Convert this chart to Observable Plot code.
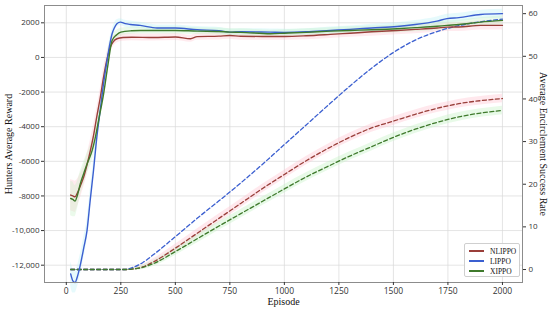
<!DOCTYPE html>
<html><head><meta charset="utf-8">
<script src="https://cdn.jsdelivr.net/npm/d3@7"></script>
<script src="https://cdn.jsdelivr.net/npm/@observablehq/plot@0.6"></script>
<style>
body{margin:0;background:#fff;}
#wrap{position:relative;width:550px;height:311px;}
#legend{position:absolute;left:464px;top:243px;width:56px;height:34px;border:1px solid #cfcfcf;border-radius:2px;background:rgba(255,255,255,0.9);font-family:"Liberation Serif",serif;font-size:7.5px;color:#111;box-sizing:border-box;padding-top:2px;}
.lg{display:flex;align-items:center;height:10px;}
.lg span.sw{display:inline-block;width:15px;height:1.5px;margin:0 6px 0 4px;}
</style></head>
<body><div id="wrap"><div id="chart"></div><div id="legend"></div></div>
<script>
const seriesNames = ["NLIPPO", "LIPPO", "XIPPO"];
const lineColors = ["#9a3f3a", "#3b5fd0", "#3f7a2c"];
const bandColors = ["#ffc6d2", "#b8f1f6", "#c6f2c6"];

// Hunters average reward (left axis)
const nlippoEp = [20,30,40,50,65,80,95,110,125,140,156,170,185,202,215,232,260,300,400,500,570,600,700,750,800,900,1000,1100,1211,1300,1400,1517,1600,1700,1746,1800,1900,2000];
const nlippoReward = [-7950,-8000,-8050,-7850,-7400,-6900,-6200,-5400,-4500,-3400,-2300,-1200,-200,600,900,1080,1150,1170,1150,1180,1080,1200,1230,1270,1220,1210,1210,1250,1330,1400,1480,1560,1620,1700,1750,1760,1850,1850];
const nlippoSpread = [900,900,900,800,700,600,600,600,600,500,500,500,400,350,300,250,220,200,200,200,200,200,220,220,220,220,220,230,230,230,250,250,250,250,250,260,260,260];

const lippoEp = [20,30,40,50,64,80,95,110,125,140,156,171,187,200,210,220,232,248,270,294,339,416,500,600,700,750,800,936,1000,1100,1211,1300,1400,1517,1600,1700,1746,1800,1900,2000];
const lippoReward = [-12500,-12900,-13000,-12700,-12000,-11000,-10000,-8200,-6500,-4600,-3000,-1500,-170,800,1370,1700,1950,2040,1950,1900,1850,1700,1700,1600,1550,1460,1480,1460,1450,1480,1560,1620,1700,1790,1900,2100,2240,2300,2480,2530];
const lippoSpread = [700,700,600,600,600,600,600,600,550,500,450,400,350,300,250,250,220,200,200,200,180,180,180,180,180,180,180,180,180,180,200,200,220,220,230,240,250,250,250,260];

const xippoEp = [20,30,40,50,64,80,95,118,135,150,171,190,210,230,250,300,339,400,500,600,700,750,800,936,1000,1100,1211,1300,1400,1517,1600,1700,1746,1800,1900,2000];
const xippoReward = [-8150,-8200,-8300,-8000,-7300,-6700,-6150,-5400,-4500,-3500,-2100,-500,980,1300,1460,1540,1560,1560,1560,1520,1500,1460,1450,1370,1400,1450,1520,1560,1600,1660,1720,1800,1850,1900,2040,2140];
const xippoSpread = [1000,1000,900,800,700,650,600,600,550,500,450,400,300,250,220,200,200,200,200,200,200,200,200,200,200,200,200,210,220,230,240,250,250,250,250,250];

// Average encirclement success rate (right axis), dashed
const successEp = [20,270,300,350,400,500,600,700,800,900,1000,1100,1200,1300,1400,1500,1600,1700,1800,1900,2000];
const nlippoSuccess = [0,0,0.1,0.6,1.8,5.0,8.5,12.0,15.5,19.0,22.3,25.5,28.4,31.0,33.2,34.8,36.4,37.8,38.9,39.6,40.1];
const lippoSuccess  = [0,0,0.4,1.6,3.5,7.7,12.0,16.1,20.3,24.7,29.3,33.9,38.5,43.0,47.2,50.9,53.8,55.8,57.2,58.1,58.7];
const xippoSuccess  = [0,0,0.1,0.5,1.4,4.2,7.2,10.2,13.1,16.0,18.9,21.7,24.2,26.6,28.8,31.0,32.9,34.5,35.8,36.7,37.3];
const successSpread = [0,0,0.3,0.5,0.7,0.9,1.0,1.0,1.0,1.0,1.0,1.0,1.0,1.0,1.0,1.0,1.0,1.0,1.0,1.0,1.0];

const xTicks = [0,250,500,750,1000,1250,1500,1750,2000];
const leftTicks = [2000,0,-2000,-4000,-6000,-8000,-10000,-12000];
const rightTicks = [0,10,20,30,40,50,60];

// map right-axis values onto the left scale
const R0 = -12250, RK = 246.3;
const toLeft = s => R0 + s * RK;
const fromLeft = v => Math.round((v - R0) / RK);

const rewardEps = [nlippoEp, lippoEp, xippoEp];
const rewardVals = [nlippoReward, lippoReward, xippoReward];
const rewardSpr = [nlippoSpread, lippoSpread, xippoSpread];
const successVals = [nlippoSuccess, lippoSuccess, xippoSuccess];

const rewardRows = [], successRows = [];
seriesNames.forEach((name, k) => {
  rewardEps[k].forEach((e, i) => rewardRows.push({name, ep: e, v: rewardVals[k][i], lo: rewardVals[k][i] - rewardSpr[k][i], hi: rewardVals[k][i] + rewardSpr[k][i]}));
  successEp.forEach((e, i) => successRows.push({name, ep: e, v: toLeft(successVals[k][i]), lo: toLeft(successVals[k][i] - successSpread[i]), hi: toLeft(successVals[k][i] + successSpread[i])}));
});

const leftFmt = d => { const a = Math.abs(d); const s = a >= 10000 ? d3.format(",")(a) : String(a); return d < 0 ? "-" + s : s; };
const serif = "Liberation Serif, Times New Roman, serif";

const chart = Plot.plot({
  width: 550, height: 311,
  marginLeft: 44, marginRight: 28, marginTop: 5, marginBottom: 29,
  style: {fontFamily: "Open Sans, sans-serif", fontSize: "8px", color: "#333", background: "#fff"},
  x: {domain: [-100, 2092]},
  y: {domain: [-13000, 3000]},
  color: {domain: seriesNames, range: lineColors},
  marks: [
    Plot.gridX(xTicks, {stroke: "#d8d8d8", strokeOpacity: 0.7}),
    Plot.gridY(leftTicks, {stroke: "#d8d8d8", strokeOpacity: 0.7}),
    Plot.areaY(successRows.filter(d => d.name !== "LIPPO"), {x: "ep", y1: "lo", y2: "hi", fill: d => d.name === "NLIPPO" ? bandColors[0] : bandColors[2], fillOpacity: 0.4, z: "name", curve: "monotone-x"}),
    Plot.areaY(rewardRows, {x: "ep", y1: "lo", y2: "hi", fill: d => bandColors[seriesNames.indexOf(d.name)], fillOpacity: 0.35, z: "name", curve: "monotone-x"}),
    Plot.line(successRows, {x: "ep", y: "v", stroke: "name", z: "name", strokeWidth: 1.3, strokeDasharray: "4,2.5", curve: "monotone-x"}),
    Plot.line(rewardRows, {x: "ep", y: "v", stroke: "name", z: "name", strokeWidth: 1.4, curve: "monotone-x"}),
    Plot.frame({stroke: "#8c8c8c", strokeWidth: 1}),
    Plot.axisX(xTicks, {tickSize: 3, tickPadding: 2, fontSize: 8.5, tickFormat: d => String(d), label: null}),
    Plot.axisY(leftTicks, {anchor: "left", tickSize: 3, tickPadding: 2, tickFormat: leftFmt, label: null, fontSize: 8}),
    Plot.axisY(rightTicks.map(toLeft), {anchor: "right", tickSize: 3, tickPadding: 3, tickFormat: fromLeft, label: null, fontSize: 8}),
    Plot.text(["Hunters Average Reward"], {frameAnchor: "left", dx: -36, rotate: -90, textAnchor: "middle", lineAnchor: "middle", fontFamily: serif, fontSize: 10, fill: "#111"}),
    Plot.text(["Average Encirclement Success Rate"], {frameAnchor: "right", dx: 21, rotate: 90, textAnchor: "middle", lineAnchor: "middle", fontFamily: serif, fontSize: 10, fill: "#111"}),
    Plot.text(["Episode"], {frameAnchor: "bottom", dy: 19, textAnchor: "middle", lineAnchor: "middle", fontFamily: serif, fontSize: 10, fill: "#111"})
  ]
});
document.getElementById("chart").appendChild(chart);

const lg = document.getElementById("legend");
seriesNames.forEach((n, i) => {
  const row = document.createElement("div");
  row.className = "lg";
  row.innerHTML = `<span class="sw" style="background:${lineColors[i]}"></span><span>${n}</span>`;
  lg.appendChild(row);
});
</script>
</body></html>
